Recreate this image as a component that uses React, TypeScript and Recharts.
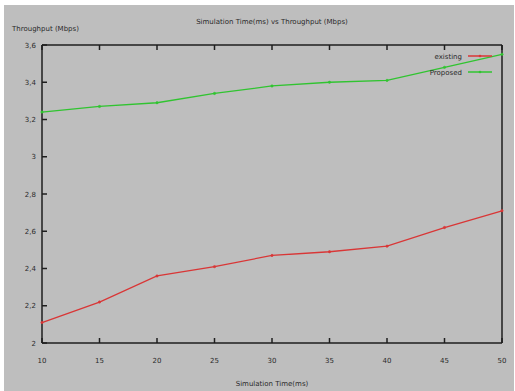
import React from 'react';
import { LineChart, Line, XAxis, YAxis, Legend } from 'recharts';

// simulation time (ms) and throughput (Mbps)
const times = [10, 15, 20, 25, 30, 35, 40, 45, 50];
const existingThroughput = [2.11, 2.22, 2.36, 2.41, 2.47, 2.49, 2.52, 2.62, 2.71];
const proposedThroughput = [3.24, 3.27, 3.29, 3.34, 3.38, 3.4, 3.41, 3.48, 3.55];

const xTicks = [10, 15, 20, 25, 30, 35, 40, 45, 50];
const yTicks = [2, 2.2, 2.4, 2.6, 2.8, 3, 3.2, 3.4, 3.6];

const series = [
  { key: 'existing', name: 'existing', color: '#d93636' },
  { key: 'proposed', name: 'Proposed', color: '#30c430' },
];

const data = times.map((t, i) => ({
  t,
  existing: existingThroughput[i],
  proposed: proposedThroughput[i],
}));

const FONT = '"DejaVu Sans", sans-serif';
const TEXT = '#2a2a2a';
const FRAME = '#1e1e1e';
const TICK_LEN = 5;
const FS = 7;

const fmtY = (v: number) => String(Math.round(v * 10) / 10).replace('.', ',');

// gnuplot style ticks: drawn inwards, labels outside
function BottomTick({ x, y, payload }: any) {
  return (
    <g>
      <line x1={x} y1={y} x2={x} y2={y - TICK_LEN} stroke={FRAME} strokeWidth={1.5} />
      <text x={x} y={y + 20} textAnchor="middle" fontSize={FS} fontFamily={FONT} fill={TEXT}>
        {payload.value}
      </text>
    </g>
  );
}

function TopTick({ x, y }: any) {
  return <line x1={x} y1={y} x2={x} y2={y + TICK_LEN} stroke={FRAME} strokeWidth={1.5} />;
}

function LeftTick({ x, y, payload }: any) {
  return (
    <g>
      <line x1={x} y1={y} x2={x + TICK_LEN} y2={y} stroke={FRAME} strokeWidth={1.5} />
      <text x={x - 6} y={y + 2.5} textAnchor="end" fontSize={FS} fontFamily={FONT} fill={TEXT}>
        {fmtY(payload.value)}
      </text>
    </g>
  );
}

function RightTick({ x, y }: any) {
  return <line x1={x} y1={y} x2={x - TICK_LEN} y2={y} stroke={FRAME} strokeWidth={1.5} />;
}

function GnuLegend({ payload }: any) {
  const items = series
    .map((s) => (payload || []).find((p: any) => p.dataKey === s.key))
    .filter(Boolean);
  return (
    <svg width={100} height={36} style={{ overflow: 'visible' }}>
      {items.map((p: any, i: number) => {
        const cy = 11 + i * 16;
        return (
          <g key={p.value}>
            <text x={62} y={cy + 2.5} textAnchor="end" fontSize={FS} fontFamily={FONT} fill={TEXT}>
              {p.value}
            </text>
            <line x1={68} y1={cy} x2={92} y2={cy} stroke={p.color} strokeWidth={1.5} />
            <circle cx={80} cy={cy} r={1.3} fill={p.color} />
          </g>
        );
      })}
    </svg>
  );
}

export default function App() {
  const axisLine = { stroke: FRAME, strokeWidth: 1.5 };
  return (
    <div style={{ position: 'absolute', left: 0, top: 0, width: 515, height: 391, background: '#fff' }}>
      <div style={{ position: 'absolute', left: 4, top: 5, width: 510, height: 386, background: '#bebebe' }} />
      <div style={{ position: 'absolute', left: 0, top: 0 }}>
        <LineChart width={515} height={391} data={data} margin={{ top: 44, right: 12, bottom: 47, left: 41 }}>
          <XAxis
            xAxisId="bottom"
            dataKey="t"
            type="number"
            domain={[10, 50]}
            ticks={xTicks}
            height={1}
            tickSize={0}
            tickMargin={0}
            tickLine={false}
            axisLine={axisLine}
            tick={<BottomTick />}
          />
          <XAxis
            xAxisId="top"
            orientation="top"
            dataKey="t"
            type="number"
            domain={[10, 50]}
            ticks={xTicks}
            height={1}
            tickSize={0}
            tickMargin={0}
            tickLine={false}
            axisLine={axisLine}
            tick={<TopTick />}
          />
          <YAxis
            yAxisId="left"
            type="number"
            domain={[2, 3.6]}
            ticks={yTicks}
            width={1}
            tickSize={0}
            tickMargin={0}
            tickLine={false}
            axisLine={axisLine}
            tick={<LeftTick />}
            allowDataOverflow
          />
          <YAxis
            yAxisId="right"
            orientation="right"
            type="number"
            domain={[2, 3.6]}
            ticks={yTicks}
            width={1}
            tickSize={0}
            tickMargin={0}
            tickLine={false}
            axisLine={axisLine}
            tick={<RightTick />}
          />
          <Legend
            layout="vertical"
            align="center"
            verticalAlign="middle"
            wrapperStyle={{ left: 400, top: 45, width: 100, height: 36 }}
            content={<GnuLegend />}
          />
          {series.map((s) => (
            <Line
              key={s.key}
              xAxisId="bottom"
              yAxisId="left"
              type="linear"
              dataKey={s.key}
              name={s.name}
              stroke={s.color}
              strokeWidth={1.3}
              dot={{ r: 1.2, fill: s.color, stroke: s.color, strokeWidth: 0.5 }}
              isAnimationActive={false}
            />
          ))}
        </LineChart>
      </div>
      <svg width={515} height={391} style={{ position: 'absolute', left: 0, top: 0, pointerEvents: 'none' }}>
        <text x={272} y={24} textAnchor="middle" fontSize={FS} fontFamily={FONT} fill={TEXT}>
          Simulation Time(ms) vs Throughput (Mbps)
        </text>
        <text x={12} y={31} fontSize={FS} fontFamily={FONT} fill={TEXT}>
          Throughput (Mbps)
        </text>
        <text x={272} y={386} textAnchor="middle" fontSize={FS} fontFamily={FONT} fill={TEXT}>
          Simulation Time(ms)
        </text>
      </svg>
    </div>
  );
}
